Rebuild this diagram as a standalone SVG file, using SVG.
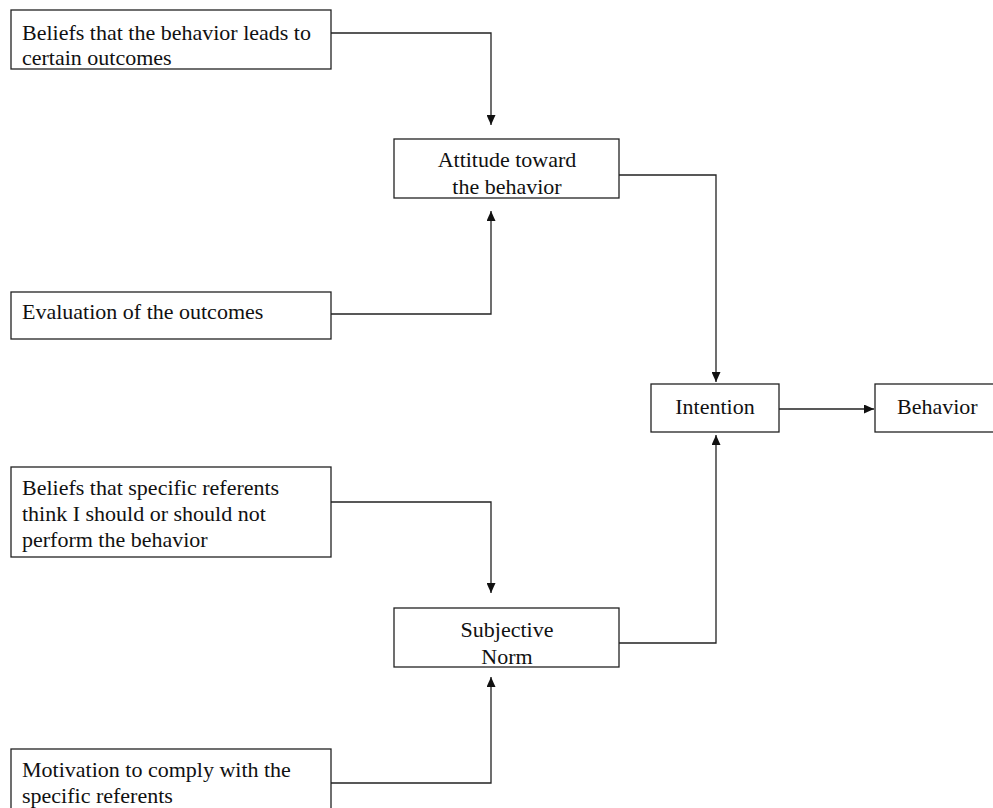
<svg xmlns="http://www.w3.org/2000/svg" width="993" height="808" viewBox="0 0 993 808">
<style>
.box{fill:#fff;stroke:#222;stroke-width:1.3}
.t{font-family:"Liberation Serif","Times New Roman",serif;font-size:22px;fill:#111}
.c{text-anchor:middle}
.con{fill:none;stroke:#222;stroke-width:1.3}
</style>
<defs>
<marker id="ah" markerUnits="userSpaceOnUse" markerWidth="10" markerHeight="9" refX="10" refY="4.5" orient="auto">
<path d="M0,0 L10,4.5 L0,9 Z" fill="#111"/>
</marker>
</defs>
<rect width="993" height="808" fill="#fff"/>
<g id="connectors">
<path class="con" d="M331,33 H491 V125" marker-end="url(#ah)"/>
<path class="con" d="M331,314 H491 V211" marker-end="url(#ah)"/>
<path class="con" d="M619,175 H716 V382" marker-end="url(#ah)"/>
<path class="con" d="M331,502 H491 V593" marker-end="url(#ah)"/>
<path class="con" d="M331,783 H491 V677" marker-end="url(#ah)"/>
<path class="con" d="M619,643 H716 V435" marker-end="url(#ah)"/>
<path class="con" d="M779,409 H874" marker-end="url(#ah)"/>
</g>
<g id="beliefs-outcomes">
<rect class="box" x="11" y="10" width="320" height="59"/>
<text class="t" x="22" y="40">Beliefs that the behavior leads to</text>
<text class="t" x="22" y="65">certain outcomes</text>
</g>
<g id="evaluation">
<rect class="box" x="11" y="292" width="320" height="47"/>
<text class="t" x="22" y="319">Evaluation of the outcomes</text>
</g>
<g id="attitude">
<rect class="box" x="394" y="139" width="225" height="59"/>
<text class="t c" x="507" y="167">Attitude toward</text>
<text class="t c" x="507" y="194">the behavior</text>
</g>
<g id="intention">
<rect class="box" x="651" y="384" width="128" height="48"/>
<text class="t c" x="715" y="414">Intention</text>
</g>
<g id="behavior">
<rect class="box" x="875" y="384" width="130" height="48"/>
<text class="t" x="897" y="414">Behavior</text>
</g>
<g id="beliefs-referents">
<rect class="box" x="11" y="467" width="320" height="90"/>
<text class="t" x="22" y="495">Beliefs that specific referents</text>
<text class="t" x="22" y="521">think I should or should not</text>
<text class="t" x="22" y="547">perform the behavior</text>
</g>
<g id="subjective-norm">
<rect class="box" x="394" y="608" width="225" height="59"/>
<text class="t c" x="507" y="637">Subjective</text>
<text class="t c" x="507" y="664">Norm</text>
</g>
<g id="motivation">
<rect class="box" x="11" y="749" width="320" height="70"/>
<text class="t" x="22" y="777">Motivation to comply with the</text>
<text class="t" x="22" y="803">specific referents</text>
</g>
</svg>
